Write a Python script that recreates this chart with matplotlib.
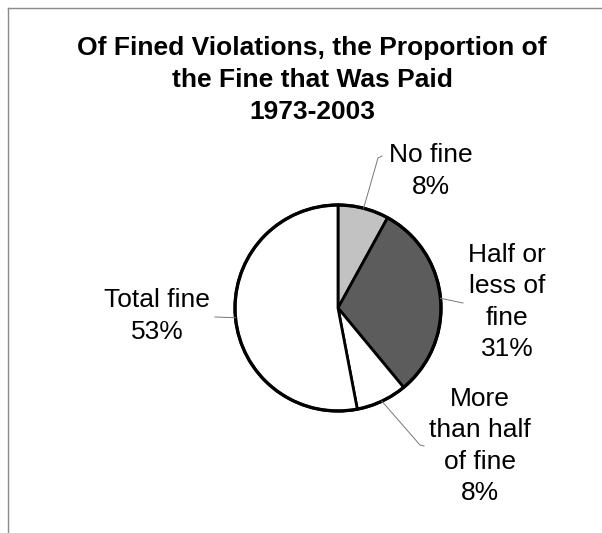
import numpy as np
import matplotlib
matplotlib.use("Agg")
import matplotlib.pyplot as plt

plt.rcParams["font.family"] = ["Liberation Sans", "DejaVu Sans"]

# share of fined violations by how much of the fine was paid, 1973-2003
categories = ["No fine", "Half or\nless of\nfine", "More\nthan half\nof fine", "Total fine"]
shares = [8, 31, 8, 53]
colors = ["#c2c2c2", "#5c5c5c", "#ffffff", "#ffffff"]

W, H = 602, 533
CX, CY, R = 338, H - 308, 103

fig = plt.figure(figsize=(W / 100, H / 100), dpi=100)
ax = fig.add_axes([0, 0, 1, 1])

# frame: only the left and top rules show
ax.plot([8, 8], [0, H - 8], color="#8a8a8a", lw=1.0)
ax.plot([8, W], [H - 8, H - 8], color="#8a8a8a", lw=1.0)

wedges, _ = ax.pie(shares, colors=colors, startangle=90, counterclock=False,
                   center=(CX, CY), radius=R,
                   wedgeprops=dict(edgecolor="black", linewidth=2.0))
ax.add_patch(plt.Circle((CX, CY), R, fill=False, ec="black", lw=2.4))

ax.text(312, H - 119, "Of Fined Violations, the Proportion of\nthe Fine that Was Paid\n1973-2003",
        ha="center", va="baseline", fontsize=19, fontweight="bold",
        linespacing=1.42, multialignment="center")

# label centres and leader-line end points (pixel coordinates, y measured from top)
label_pos = [(431, 171), (507, 302), (480, 446), (157, 316)]
leader_end = [[(378, 158), (382, 156)], [(463, 303)], [(420, 445), (424, 446)], [(215, 317)]]

cum = np.cumsum([0] + shares[:-1])
for name, val, c0, (lx, ly), ends in zip(categories, shares, cum, label_pos, leader_end):
    mid = np.deg2rad(90 - (c0 + val / 2) * 3.6)
    px, py = CX + R * np.cos(mid), CY + R * np.sin(mid)
    xs = [px] + [e[0] for e in ends]
    ys = [py] + [H - e[1] for e in ends]
    ax.plot(xs, ys, color="#777777", lw=0.7)
    ax.text(lx, H - ly, f"{name}\n{val}%", ha="center", va="center",
            fontsize=19, multialignment="center", linespacing=1.4)

ax.set_xlim(0, W)
ax.set_ylim(0, H)
ax.set_aspect("equal")
ax.axis("off")

fig.savefig("out.png", dpi=100)
